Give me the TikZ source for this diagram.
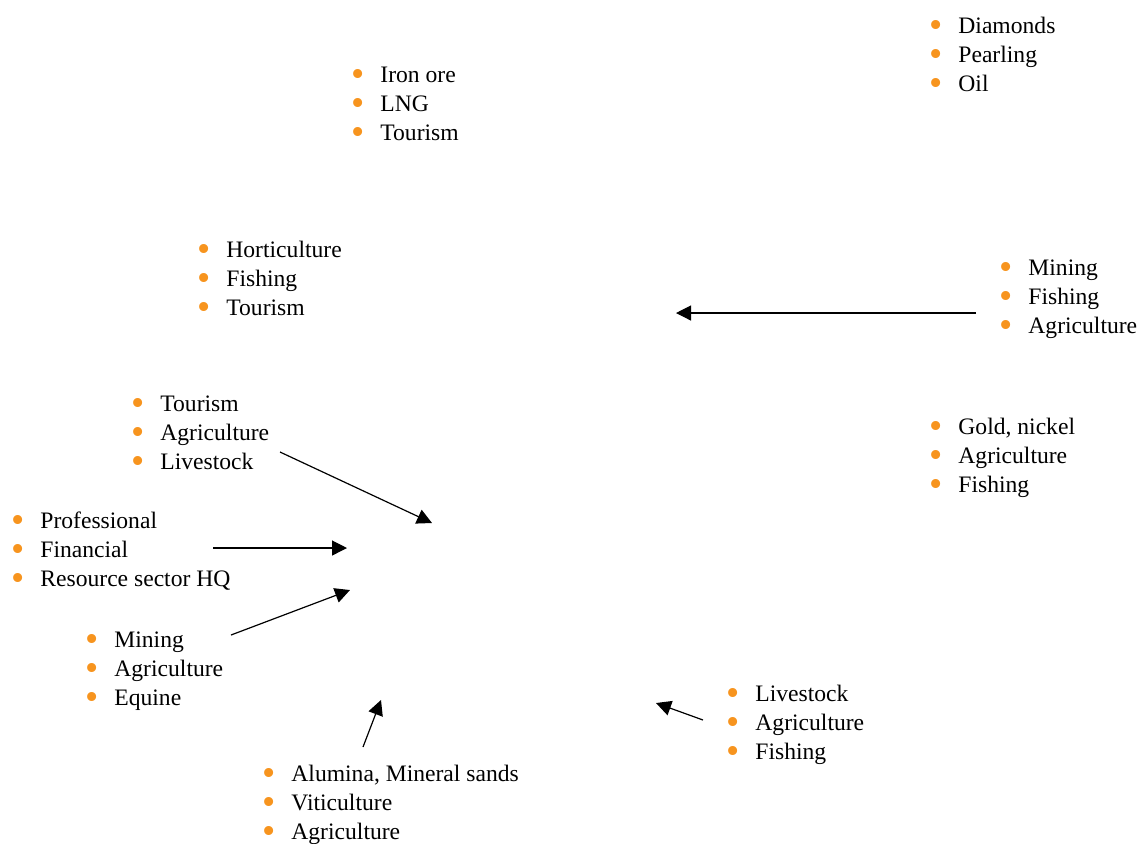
\documentclass[tikz,border=0pt]{standalone}
\usepackage{fontspec}
\setmainfont{Liberation Serif}
\usetikzlibrary{arrows.meta}
\definecolor{bulletorange}{RGB}{247,148,30}
\newcommand{\orangedot}{\makebox[14.5pt][l]{\textcolor{bulletorange}{\smash{\raisebox{-2.2pt}{\scalebox{1.6}{\textbullet}}}}}}
\newcommand{\threeitems}[3]{\orangedot#1\\\orangedot#2\\\orangedot#3}

\begin{document}
\begin{tikzpicture}[x=0.5pt,y=-0.5pt,
    itemlist/.style={anchor=base west, inner sep=0pt, align=left,
        font={\fontsize{11.8}{14.5}\selectfont}},
    flow/.style={-{Triangle[length=7.5pt,width=7.5pt]}, line width=0.6pt}]
        \useasboundingbox (0,0) rectangle (1144,843);
        % industry lists of each region (placed at the baseline of the last line)
        \node[itemlist] (kimberley) at (929,91) {\threeitems{Diamonds}{Pearling}{Oil}};
        \node[itemlist] (pilbara) at (351,140) {\threeitems{Iron ore}{LNG}{Tourism}};
        \node[itemlist] (gascoyne) at (197,315) {\threeitems{Horticulture}{Fishing}{Tourism}};
        \node[itemlist] (midwest) at (999,333) {\threeitems{Mining}{Fishing}{Agriculture}};
        \node[itemlist] (wheatbelt) at (131,469) {\threeitems{Tourism}{Agriculture}{Livestock}};
        \node[itemlist] (goldfields) at (929,492) {\threeitems{Gold, nickel}{Agriculture}{Fishing}};
        \node[itemlist] (perth) at (11,586) {\threeitems{Professional}{Financial}{Resource sector HQ}};
        \node[itemlist] (peel) at (85,705) {\threeitems{Mining}{Agriculture}{Equine}};
        \node[itemlist] (greatsouthern) at (726,759) {\threeitems{Livestock}{Agriculture}{Fishing}};
        \node[itemlist] (southwest) at (262,839) {\threeitems{Alumina, Mineral sands}{Viticulture}{Agriculture}};
        % arrow ends
        \coordinate (midwest-from) at (976,313); \coordinate (midwest-to) at (676,313);
        \coordinate (wheatbelt-from) at (280,452); \coordinate (wheatbelt-to) at (432,523);
        \coordinate (perth-from) at (213,548); \coordinate (perth-to) at (347,548);
        \coordinate (peel-from) at (231,635); \coordinate (peel-to) at (350,590);
        \coordinate (southwest-from) at (363,747); \coordinate (southwest-to) at (381,700);
        \coordinate (greatsouthern-from) at (703,720); \coordinate (greatsouthern-to) at (656,703);
        \foreach \r in {midwest, wheatbelt, perth, peel, southwest, greatsouthern}
            \draw[flow] (\r-from) -- (\r-to);
    \end{tikzpicture}
\end{document}
